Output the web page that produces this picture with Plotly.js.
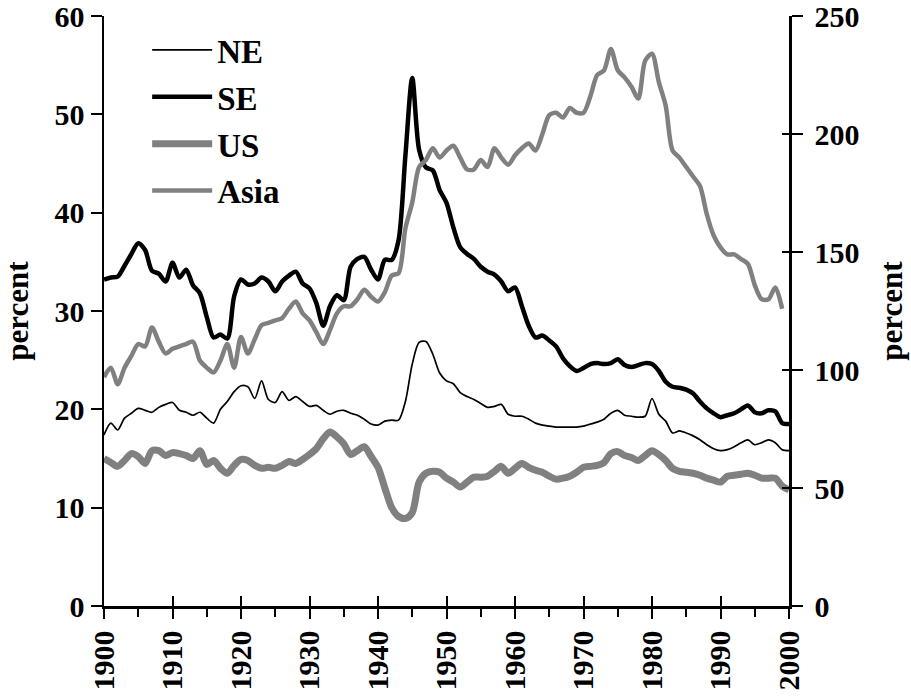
<!DOCTYPE html>
<html>
<head>
<meta charset="utf-8">
<script src="https://cdn.plot.ly/plotly-3.0.1.min.js"></script>
<style>html,body{margin:0;padding:0;background:#fff;}#chart{width:911px;height:698px;}</style>
</head>
<body>
<div id="chart"></div>
<script>
const years = [];
for (let y = 1900; y <= 2000; y++) years.push(y);

const NE = [17.4,18.6,17.9,19.1,19.6,20.1,19.9,19.7,20.2,20.5,
 20.7,19.9,19.7,19.4,19.7,19.1,18.6,20.0,20.8,21.8,
 22.4,22.3,21.1,22.9,21.0,20.7,21.8,20.9,21.3,20.8,
 20.3,20.4,19.9,19.5,19.8,19.9,19.6,19.4,19.0,18.5,
 18.4,18.8,18.9,18.9,20.8,24.6,26.8,26.9,25.6,23.7,
 22.9,22.6,21.7,21.3,21.0,20.6,20.2,20.3,20.5,19.5,
 19.3,19.3,19.0,18.6,18.4,18.3,18.2,18.2,18.2,18.2,
 18.3,18.5,18.7,19.0,19.6,19.9,19.4,19.3,19.2,19.3,
 21.1,19.5,18.8,17.6,17.8,17.6,17.3,16.9,16.4,16.0,
 15.8,15.9,16.2,16.6,16.9,16.4,16.6,16.9,16.6,15.9,15.8];

const SE = [33.2,33.4,33.5,34.6,35.8,36.9,36.2,34.1,33.8,33.0,
 34.9,33.4,34.2,32.6,31.8,29.4,27.3,27.6,27.2,31.5,
 33.2,32.7,32.8,33.4,33.0,32.0,33.0,33.6,34.0,32.8,
 32.3,30.8,28.5,30.5,31.6,31.1,34.5,35.3,35.5,34.2,
 33.2,35.2,35.2,37.2,45.8,53.7,46.4,44.6,44.3,42.3,
 41.0,38.5,36.5,35.8,35.3,34.5,34.0,33.7,33.0,32.0,
 32.4,30.5,28.5,27.3,27.5,27.0,26.4,25.2,24.4,23.9,
 24.2,24.6,24.7,24.6,24.7,25.1,24.5,24.3,24.5,24.7,
 24.6,23.9,22.8,22.3,22.2,22.0,21.6,20.8,20.1,19.6,
 19.2,19.4,19.6,20.0,20.4,19.7,19.6,19.9,19.8,18.6,18.5];

const US = [15.0,14.6,14.2,14.8,15.5,15.2,14.5,15.8,15.8,15.3,
 15.6,15.5,15.3,15.0,15.8,14.4,14.8,14.0,13.5,14.3,
 14.9,14.8,14.3,14.0,14.1,14.0,14.3,14.7,14.5,14.9,
 15.4,16.0,17.0,17.7,17.2,16.5,15.4,15.8,16.2,15.2,
 14.1,12.0,10.0,9.1,8.9,9.5,12.6,13.5,13.7,13.6,
 13.0,12.6,12.1,12.6,13.1,13.1,13.2,13.7,14.2,13.5,
 14.0,14.5,14.1,13.8,13.6,13.2,12.9,13.0,13.2,13.6,
 14.1,14.2,14.3,14.6,15.5,15.7,15.3,15.1,14.8,15.3,
 15.8,15.4,14.8,14.0,13.7,13.6,13.5,13.3,13.0,12.8,
 12.6,13.2,13.3,13.4,13.5,13.3,13.0,13.0,13.0,12.2,11.8];

const Asia = [97,101,94,101,106,111,110,118,112,107,
 109,110,111,112,104,101,99,104,111,101,
 114,107,113,119,120,121,122,126,129,124,
 121,116,111,117,124,127,127,130,134,131,
 129,133,140,141,160,171,186,189,194,190,
 193,195,190,185,185,189,186,194,190,187,
 191,194,196,193,200,208,209,207,211,209,
 209,216,225,227,236,227,224,220,215,231,
 234,222,212,193,190,186,182,178,166,157,
 152,149,149,147,145,136,130,130,135,126];

const xTicks = [1900,1910,1920,1930,1940,1950,1960,1970,1980,1990,2000];
const leftTicks = [0,10,20,30,40,50,60];
const rightTicks = [0,50,100,150,200,250];

const FONT = 'Liberation Serif, Times New Roman, serif';
const grey = '#808080';

const traces = [
  {x: years, y: NE, name: '<b>NE</b>', mode: 'lines', line: {color: '#000', width: 1.7, shape: 'spline', smoothing: 0.8}, legendgroup: 'a'},
  {x: years, y: SE, name: '<b>SE</b>', mode: 'lines', line: {color: '#000', width: 4.5, shape: 'spline', smoothing: 0.8}, legendgroup: 'b'},
  {x: years, y: US, name: '<b>US</b>', mode: 'lines', line: {color: grey, width: 7, shape: 'spline', smoothing: 0.8}, legendgroup: 'c'},
  {x: years.slice(0, Asia.length), y: Asia, name: '<b>Asia</b>', mode: 'lines', yaxis: 'y2', line: {color: grey, width: 4.5, shape: 'spline', smoothing: 0.8}, legendgroup: 'd'},
  {x: years, y: NE, xaxis: 'x2', yaxis: 'y', mode: 'lines', line: {width: 0}, showlegend: false, hoverinfo: 'skip', opacity: 0},
  {x: years, y: Asia, xaxis: 'x', yaxis: 'y3', mode: 'lines', line: {width: 0}, showlegend: false, hoverinfo: 'skip', opacity: 0}
];

const tickFont = {family: FONT, size: 30, color: '#000'};
const titleFont = {family: FONT, size: 31, color: '#000'};

const layout = {
  width: 911, height: 698,
  margin: {l: 104, r: 122, t: 16, b: 92},
  paper_bgcolor: '#fff', plot_bgcolor: '#fff',
  font: {family: FONT, color: '#000'},
  showlegend: true,
  legend: {x: 0.063, y: 0.99, xanchor: 'left', yanchor: 'top', traceorder: 'grouped', tracegroupgap: 1,
           itemwidth: 60,
           font: {family: FONT, size: 33, color: '#000'}, bgcolor: 'rgba(0,0,0,0)'},
  xaxis: {range: [1900, 2000], tickvals: xTicks, ticktext: xTicks.map(v => '<b>' + v + '</b>'), tickangle: -90,
          ticks: 'outside', ticklen: 10, tickwidth: 2, tickcolor: '#000', ticklabeloverflow: 'allow',
          minor: {dtick: 5, tick0: 1900, ticks: 'outside', ticklen: 8, tickwidth: 2, tickcolor: '#000'},
          showline: true, linecolor: '#000', linewidth: 2.5, showgrid: false, zeroline: false,
          tickfont: tickFont, anchor: 'y'},
  xaxis2: {range: [1900, 2000], overlaying: 'x', side: 'bottom', anchor: 'y', tickvals: xTicks, showticklabels: false,
           ticks: 'inside', ticklen: 10, tickwidth: 2, tickcolor: '#000', showline: false, showgrid: false, zeroline: false},
  yaxis: {range: [0, 60], tickvals: leftTicks, ticktext: leftTicks.map(v => '<b>' + v + '</b>'),
          ticks: 'outside', ticklen: 11, tickwidth: 2, tickcolor: '#000', ticklabeloverflow: 'allow',
          showline: true, linecolor: '#000', linewidth: 2.5, showgrid: false, zeroline: false,
          tickfont: tickFont,
          title: {text: '<b>percent</b>', font: titleFont, standoff: 24}},
  yaxis2: {range: [0, 250], overlaying: 'y', side: 'right', anchor: 'x', tickvals: rightTicks, ticktext: rightTicks.map(v => '<b>' + v + '</b>'),
           ticks: 'outside', ticklen: 11, tickwidth: 2, tickcolor: '#000', ticklabeloverflow: 'allow', ticklabelstandoff: 6,
           showline: true, linecolor: '#000', linewidth: 2.5, showgrid: false, zeroline: false,
           tickfont: tickFont,
           title: {text: '<b>percent</b>', font: titleFont, standoff: 22}},
  yaxis3: {range: [0, 250], overlaying: 'y', side: 'right', anchor: 'x', tickvals: rightTicks, showticklabels: false,
           ticks: 'inside', ticklen: 7, tickwidth: 2, tickcolor: '#000', showline: false, showgrid: false, zeroline: false}
};

Plotly.newPlot('chart', traces, layout, {displayModeBar: false, staticPlot: true});
</script>
</body>
</html>
